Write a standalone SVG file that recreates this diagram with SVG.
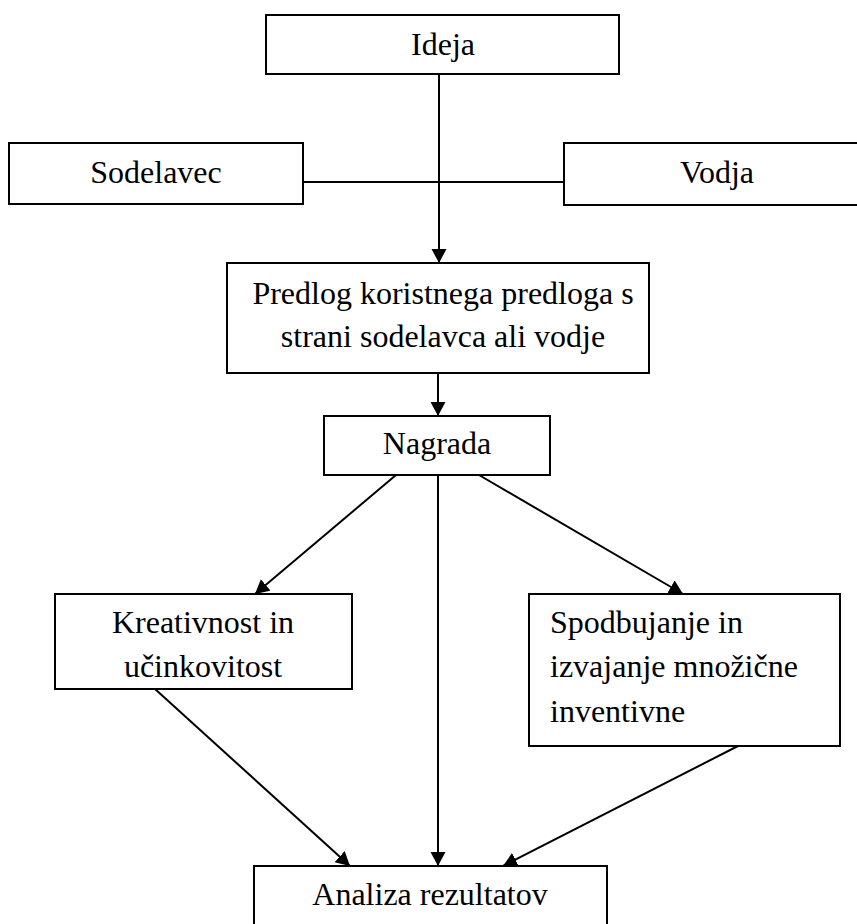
<svg xmlns="http://www.w3.org/2000/svg" width="857" height="924" viewBox="0 0 857 924">
<defs>
<style>
.box{fill:#fff;stroke:#000;stroke-width:2}
.t{font-family:"Liberation Serif","Times New Roman",serif;font-size:32px;fill:#000}
.c{text-anchor:middle}
.ln{stroke:#000;stroke-width:2;fill:none}
.ar{marker-end:url(#ah)}
</style>
<marker id="ah" markerUnits="userSpaceOnUse" markerWidth="16" markerHeight="16" refX="14" refY="7.5" orient="auto">
<path d="M0,0 L14,7.5 L0,15 z" fill="#000"/>
</marker>
</defs>
<g id="connectors">
<line class="ln" x1="303" y1="182" x2="564" y2="182"/>
<line class="ln ar" x1="439" y1="74" x2="439" y2="263"/>
<line class="ln ar" x1="438" y1="373" x2="438" y2="416"/>
<line class="ln ar" x1="396" y1="475" x2="255" y2="594"/>
<line class="ln ar" x1="438" y1="475" x2="438" y2="866"/>
<line class="ln ar" x1="479" y1="475" x2="683" y2="594"/>
<line class="ln ar" x1="155" y1="689" x2="350" y2="866"/>
<line class="ln ar" x1="738" y1="746" x2="503" y2="866"/>
</g>
<g id="ideja">
<rect class="box" x="266" y="15" width="353" height="59"/>
<text class="t c" x="443" y="55">Ideja</text>
</g>
<g id="sodelavec">
<rect class="box" x="9" y="143" width="294" height="61"/>
<text class="t c" x="156" y="183">Sodelavec</text>
</g>
<g id="vodja">
<rect class="box" x="564" y="143" width="306" height="62"/>
<text class="t c" x="717" y="183">Vodja</text>
</g>
<g id="predlog">
<rect class="box" x="227" y="263" width="422" height="110"/>
<text class="t c" x="443" y="304">Predlog koristnega predloga s</text>
<text class="t c" x="443" y="347">strani sodelavca ali vodje</text>
</g>
<g id="nagrada">
<rect class="box" x="324" y="416" width="226" height="59"/>
<text class="t c" x="437" y="454">Nagrada</text>
</g>
<g id="kreativnost">
<rect class="box" x="55" y="594" width="297" height="95"/>
<text class="t c" x="203" y="633">Kreativnost in</text>
<text class="t c" x="203" y="677">učinkovitost</text>
</g>
<g id="spodbujanje">
<rect class="box" x="529" y="594" width="311" height="152"/>
<text class="t" x="550" y="633">Spodbujanje in</text>
<text class="t" x="550" y="677">izvajanje množične</text>
<text class="t" x="550" y="722">inventivne</text>
</g>
<g id="analiza">
<rect class="box" x="254" y="866" width="353" height="70"/>
<text class="t c" x="430" y="905">Analiza rezultatov</text>
</g>
</svg>
